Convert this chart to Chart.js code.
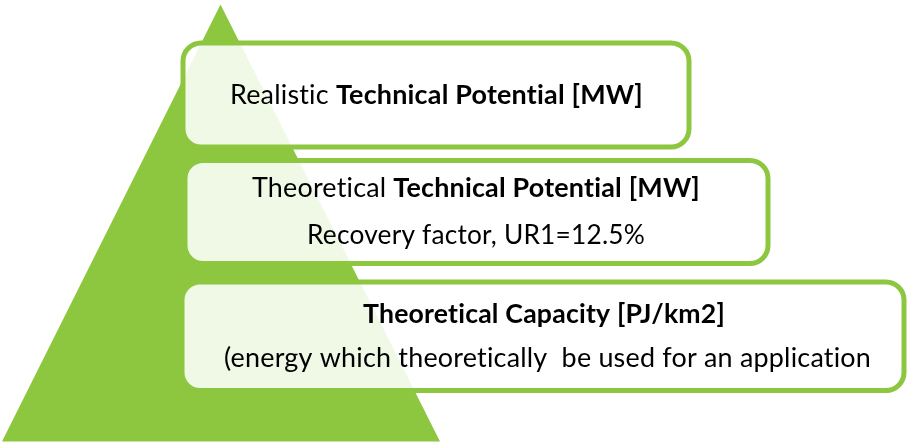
<!DOCTYPE html>
<html lang="en">
<head>
    <meta charset="UTF-8">
    <title>Potential pyramid</title>
    <script src="https://cdn.jsdelivr.net/npm/chart.js@4.4.0/dist/chart.umd.min.js"></script>
    <style>
        html, body { margin: 0; padding: 0; background: #fff; }
        #wrap { width: 907px; height: 443px; }
    </style>
</head>
<body>
    <div id="wrap"><canvas id="myChart" width="907" height="443"></canvas></div>

    <script>
        // pyramid outline (axis units = pixels of the 907x443 picture)
        const pyramidX = [2, 220.5, 440];
        const pyramidY = [441.5, 4.5, 441.5];

        // the three levels, top to bottom
        const boxLeft = [183, 185, 182];
        const boxRight = [689, 768, 904];
        const boxTop = [43, 160.5, 282];
        const boxBottom = [147, 263.5, 390.5];

        // text lines: [regular part, bold part]
        const textLines = [
            [['Realistic ', false], ['Technical Potential [MW]', true]],
            [['Theoretical ', false], ['Technical Potential [MW]', true]],
            [['Recovery factor, UR1=12.5%', false]],
            [['Theoretical Capacity [PJ/km2]', true]],
            [['(energy which theoretically  be used for an application', false]]
        ];
        const textCenterX = [436.5, 476, 476, 544, 547.5];
        const textBaseline = [104, 196.5, 244, 322.5, 366.5];
        const textWidth = [413, 448, 338, 362, 647];

        const green = '#8DC63F';
        const fontSize = 27;

        const levelsPlugin = {
            id: 'levels',
            afterDatasetsDraw(chart) {
                const ctx = chart.ctx;
                const x = chart.scales.x;
                const y = chart.scales.y;
                ctx.save();
                for (let i = 0; i < boxLeft.length; i++) {
                    const x0 = x.getPixelForValue(boxLeft[i]);
                    const x1 = x.getPixelForValue(boxRight[i]);
                    const y0 = y.getPixelForValue(boxTop[i]);
                    const y1 = y.getPixelForValue(boxBottom[i]);
                    ctx.beginPath();
                    ctx.roundRect(x0, y0, x1 - x0, y1 - y0, 18);
                    ctx.fillStyle = 'rgba(255,255,255,0.87)';
                    ctx.fill();
                    ctx.lineWidth = 5;
                    ctx.strokeStyle = green;
                    ctx.stroke();
                }

                ctx.fillStyle = '#000';
                ctx.textBaseline = 'alphabetic';
                ctx.textAlign = 'left';
                // a tiny letter spacing switches off the "ti" ligature of Lato
                if ('letterSpacing' in ctx) ctx.letterSpacing = '0.2px';
                textLines.forEach((segs, i) => {
                    let total = 0;
                    segs.forEach(s => {
                        ctx.font = (s[1] ? 'bold ' : '') + fontSize + 'px Lato';
                        total += ctx.measureText(s[0]).width;
                    });
                    const cx = x.getPixelForValue(textCenterX[i]);
                    const by = y.getPixelForValue(textBaseline[i]);
                    const sx = textWidth[i] / total;
                    ctx.save();
                    ctx.translate(cx, by);
                    ctx.scale(sx, 1);
                    let pos = -total / 2;
                    segs.forEach(s => {
                        ctx.font = (s[1] ? 'bold ' : '') + fontSize + 'px Lato';
                        ctx.fillText(s[0], pos, 0);
                        pos += ctx.measureText(s[0]).width;
                    });
                    ctx.restore();
                });
                ctx.restore();
            }
        };

        const ctx = document.getElementById('myChart').getContext('2d');
        const myChart = new Chart(ctx, {
            type: 'scatter',
            data: {
                datasets: [{
                    label: 'Pyramid',
                    data: pyramidX.map((v, i) => ({ x: v, y: pyramidY[i] })),
                    showLine: true,
                    fill: { value: pyramidY[0] },
                    backgroundColor: green,
                    borderColor: green,
                    borderWidth: 0,
                    pointRadius: 0,
                    tension: 0
                }]
            },
            options: {
                responsive: false,
                animation: false,
                devicePixelRatio: 1,
                layout: { padding: 0 },
                plugins: {
                    legend: { display: false },
                    tooltip: { enabled: false }
                },
                scales: {
                    x: { type: 'linear', min: 0, max: 907, display: false },
                    y: { type: 'linear', min: 0, max: 443, reverse: true, display: false }
                }
            },
            plugins: [levelsPlugin]
        });
    </script>
</body>
</html>
